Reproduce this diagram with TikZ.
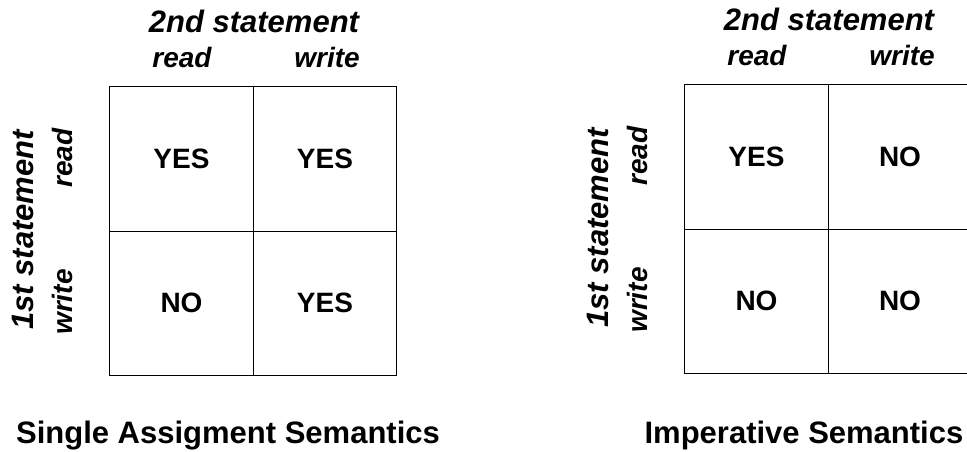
\documentclass[tikz,border=0pt]{standalone}
\usepackage{fontspec}
\setmainfont{Liberation Sans}
\begin{document}
\begin{tikzpicture}[x=1pt,y=-1pt,line width=1pt,
    cellbox/.style={draw, minimum width=143.5pt, minimum height=144pt, inner sep=0pt,
      font=\bfseries\fontsize{28}{28}\selectfont},
    headlabel/.style={anchor=base, inner sep=0pt, font=\bfseries\itshape\fontsize{31}{31}\selectfont},
    sublabel/.style={anchor=base, inner sep=0pt, font=\bfseries\itshape\fontsize{28}{28}\selectfont},
    titlelabel/.style={anchor=base, inner sep=0pt, font=\bfseries\fontsize{31}{31}\selectfont}]

      \useasboundingbox (0,0) rectangle (967,452);

      % single assignment semantics
      \begin{scope}
        \node[cellbox] (sa-rr) at (181.5,159) {YES};
        \node[cellbox] (sa-rw) at (325,159)   {YES};
        \node[cellbox] (sa-wr) at (181.5,303) {NO};
        \node[cellbox] (sa-ww) at (325,303)   {YES};

        \node[headlabel] (sa-second) at (254,33) {2nd statement};
        \node[sublabel]  (sa-cread)  at (182,68) {read};
        \node[sublabel]  (sa-cwrite) at (327,68) {write};

        \node[headlabel, rotate=90] (sa-first)  at (33,230) {1st statement};
        \node[sublabel, rotate=90]  (sa-rread)  at (72,158) {read};
        \node[sublabel, rotate=90]  (sa-rwrite) at (72,302) {write};

        \node[titlelabel] (sa-title) at (228,443) {Single Assigment Semantics};
      \end{scope}

      % imperative semantics
      \begin{scope}[shift={(575,-2)}]
        \node[cellbox] (im-rr) at (181.5,159) {YES};
        \node[cellbox] (im-rw) at (325,159)   {NO};
        \node[cellbox] (im-wr) at (181.5,303) {NO};
        \node[cellbox] (im-ww) at (325,303)   {NO};

        \node[headlabel] (im-second) at (254,33) {2nd statement};
        \node[sublabel]  (im-cread)  at (182,68) {read};
        \node[sublabel]  (im-cwrite) at (327,68) {write};

        \node[headlabel, rotate=90] (im-first)  at (33,230) {1st statement};
        \node[sublabel, rotate=90]  (im-rread)  at (72,158) {read};
        \node[sublabel, rotate=90]  (im-rwrite) at (72,302) {write};

        \node[titlelabel] (im-title) at (229,445) {Imperative Semantics};
      \end{scope}

    \end{tikzpicture}
\end{document}
